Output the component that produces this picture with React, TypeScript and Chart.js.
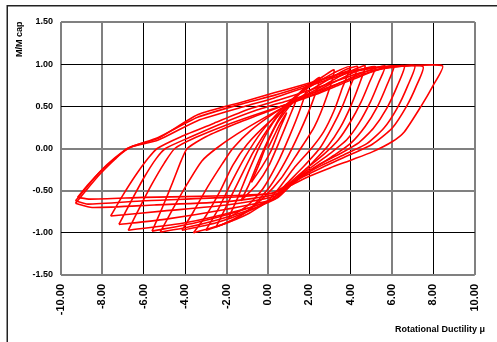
import { useEffect, useRef } from "react";
import { Chart, registerables } from "chart.js";

Chart.register(...registerables);

const xTicks = [-10, -8, -6, -4, -2, 0, 2, 4, 6, 8, 10];
const yTicks = [-1.5, -1.0, -0.5, 0, 0.5, 1.0, 1.5];
const xGray = [-10, -8, -2, 0, 6, 10];
const yGray = [1.5, 0, -0.5, -1.5];

type P = [number, number];

const loopA: P[] = [[0, 0], [0.3, 0.15], [0.6, 0.3], [0.9, 0.42], [0.55, 0.22], [0.15, -0.03], [-0.3, -0.22], [-0.8, -0.4]];
const loopB: P[] = [[-0.8, -0.4], [-0.45, -0.2], [-0.05, 0.05], [0.45, 0.3], [0.95, 0.47], [1.4, 0.6], [1.05, 0.38], [0.55, 0.08], [0.05, -0.2], [-0.55, -0.43], [-1.3, -0.62]];
const loopC: P[] = [[-1.3, -0.62], [-0.9, -0.42], [-0.45, -0.15], [0.05, 0.12], [0.65, 0.4], [1.3, 0.6], [1.9, 0.74], [1.55, 0.46], [1.05, 0.15], [0.45, -0.18], [-0.25, -0.48], [-1.0, -0.68], [-1.9, -0.82]];
const loopD: P[] = [[-1.9, -0.82], [-1.45, -0.58], [-0.95, -0.28], [-0.35, 0.05], [0.4, 0.36], [1.2, 0.58], [1.9, 0.73], [2.5, 0.84], [2.15, 0.55], [1.55, 0.2], [0.85, -0.15], [0.1, -0.45], [-0.8, -0.7], [-1.7, -0.85], [-2.5, -0.93]];
const loopE: P[] = [[-2.5, -0.93], [-2.0, -0.68], [-1.4, -0.38], [-0.7, -0.04], [0.2, 0.3], [1.1, 0.55], [2.0, 0.74], [2.7, 0.86], [3.2, 0.93], [2.85, 0.62], [2.25, 0.26], [1.45, -0.05], [0.65, -0.35], [-0.2, -0.58], [-1.2, -0.78], [-2.2, -0.9], [-3.0, -0.97]];
const loopF: P[] = [[-3.0, -0.97], [-2.4, -0.72], [-1.8, -0.42], [-1.1, -0.1], [-0.3, 0.2], [0.6, 0.45], [1.5, 0.65], [2.5, 0.8], [3.2, 0.9], [3.96, 0.97], [3.6, 0.72], [3.2, 0.45], [2.7, 0.2], [2.1, 0.0], [1.3, -0.22], [0.6, -0.45], [0.0, -0.62], [-1.0, -0.78], [-2.2, -0.9], [-3.6, -1.0]];
const loopG: P[] = [[-3.6, -1.0], [-3.0, -0.8], [-2.3, -0.5], [-1.7, -0.2], [-1.0, 0.05], [0.0, 0.3], [1.0, 0.5], [2.0, 0.68], [3.0, 0.83], [3.8, 0.94], [4.34, 0.97], [4.0, 0.75], [3.6, 0.5], [3.1, 0.25], [2.5, 0.0], [1.7, -0.22], [0.9, -0.42], [0.2, -0.6], [-1.0, -0.75], [-2.5, -0.88], [-4.15, -0.97]];
const loopH: P[] = [[-4.15, -0.97], [-3.6, -0.75], [-2.9, -0.45], [-2.2, -0.18], [-1.7, 0.0], [-0.8, 0.22], [0.3, 0.42], [1.4, 0.58], [2.5, 0.72], [3.5, 0.86], [4.2, 0.94], [4.7, 0.98], [4.4, 0.75], [4.0, 0.5], [3.5, 0.25], [2.9, 0.03], [2.1, -0.18], [1.3, -0.38], [0.5, -0.58], [-0.8, -0.72], [-2.5, -0.85], [-4.0, -0.94], [-5.2, -0.99]];
const loopI: P[] = [[-5.2, -0.99], [-4.6, -0.72], [-3.9, -0.42], [-3.2, -0.15], [-2.5, 0.0], [-1.5, 0.17], [-0.2, 0.36], [1.0, 0.52], [2.2, 0.66], [3.3, 0.8], [4.3, 0.92], [5.2, 0.97], [4.9, 0.78], [4.5, 0.55], [4.0, 0.32], [3.4, 0.1], [2.7, -0.07], [1.8, -0.25], [1.0, -0.42], [0.2, -0.6], [-1.5, -0.75], [-3.5, -0.88], [-5.6, -0.98]];
const loopJ: P[] = [[-5.6, -0.98], [-5.1, -0.7], [-4.6, -0.4], [-4.2, -0.15], [-3.9, 0.0], [-3.0, 0.14], [-1.5, 0.3], [0.0, 0.44], [1.3, 0.56], [2.5, 0.67], [3.6, 0.79], [4.6, 0.9], [5.66, 0.98], [5.35, 0.78], [4.95, 0.55], [4.4, 0.3], [3.8, 0.1], [3.0, -0.06], [2.0, -0.24], [1.1, -0.42], [0.3, -0.6], [-1.5, -0.74], [-4.0, -0.88], [-6.75, -0.97]];
const loopK: P[] = [[-6.75, -0.97], [-6.2, -0.7], [-5.6, -0.42], [-5.0, -0.17], [-4.5, 0.0], [-3.5, 0.13], [-2.0, 0.28], [-0.5, 0.41], [1.0, 0.53], [2.3, 0.64], [3.5, 0.76], [4.6, 0.87], [5.5, 0.95], [6.1, 0.98], [5.75, 0.75], [5.3, 0.5], [4.7, 0.26], [4.0, 0.06], [3.2, -0.08], [2.2, -0.24], [1.2, -0.42], [0.3, -0.6], [-2.0, -0.72], [-5.0, -0.84], [-7.2, -0.9]];
const loopL: P[] = [[-7.2, -0.9], [-6.6, -0.62], [-6.0, -0.35], [-5.4, -0.12], [-4.95, 0.0], [-3.8, 0.13], [-2.2, 0.3], [-0.6, 0.45], [1.0, 0.57], [2.3, 0.67], [3.5, 0.78], [4.6, 0.88], [5.8, 0.96], [6.6, 0.98], [6.25, 0.74], [5.75, 0.48], [5.1, 0.24], [4.4, 0.07], [3.5, -0.06], [2.4, -0.2], [1.3, -0.38], [0.4, -0.56], [-2.0, -0.67], [-5.0, -0.74], [-7.6, -0.8]];
const loopM: P[] = [[-7.6, -0.8], [-7.0, -0.55], [-6.4, -0.32], [-5.8, -0.12], [-5.35, 0.0], [-4.2, 0.14], [-2.6, 0.3], [-1.0, 0.46], [0.6, 0.58], [2.0, 0.69], [3.3, 0.8], [4.5, 0.9], [6.0, 0.96], [7.1, 0.98], [6.75, 0.74], [6.25, 0.48], [5.6, 0.24], [4.8, 0.06], [3.8, -0.06], [2.6, -0.2], [1.4, -0.36], [0.4, -0.54], [-2.0, -0.63], [-5.5, -0.67], [-8.5, -0.7], [-9.3, -0.65]];
const loopN: P[] = [[-9.3, -0.65], [-8.8, -0.5], [-8.1, -0.3], [-7.4, -0.13], [-6.8, 0.0], [-5.3, 0.13], [-3.4, 0.37], [-1.1, 0.54], [0.3, 0.63], [1.5, 0.72], [2.7, 0.82], [3.7, 0.9], [4.8, 0.95], [6.2, 0.98], [7.5, 0.97], [7.17, 0.74], [6.7, 0.5], [6.0, 0.24], [5.05, 0.05], [4.1, -0.06], [3.0, -0.18], [2.0, -0.3], [1.0, -0.42], [0.2, -0.53], [-2.0, -0.58], [-6.0, -0.62], [-8.7, -0.66], [-9.3, -0.62]];
const loopO: P[] = [[-9.3, -0.62], [-8.8, -0.47], [-8.1, -0.27], [-7.4, -0.11], [-6.7, 0.01], [-5.3, 0.1], [-3.4, 0.33], [-1.1, 0.5], [0.3, 0.6], [1.5, 0.7], [2.7, 0.8], [3.8, 0.89], [5.0, 0.95], [6.5, 0.975], [8.44, 0.98], [7.97, 0.74], [7.4, 0.5], [6.6, 0.2], [6.0, 0.08], [5.05, -0.04], [4.1, -0.13], [3.0, -0.23], [2.0, -0.33], [1.0, -0.45], [0.2, -0.53], [-2.0, -0.56], [-6.0, -0.58], [-8.6, -0.6], [-9.2, -0.58]];
const loopP: P[] = [[-9.2, -0.58], [-8.7, -0.43], [-8.0, -0.25], [-7.3, -0.1], [-6.6, 0.02], [-5.3, 0.12], [-3.4, 0.4], [-1.1, 0.56], [0.3, 0.66], [1.5, 0.74], [3.0, 0.85], [4.0, 0.93]];

const loops: P[][] = [loopA, loopB, loopC, loopD, loopE, loopF, loopG, loopH, loopI, loopJ, loopK, loopL, loopM, loopN, loopO, loopP];

const FONT = '"Liberation Sans", Arial, sans-serif';

const decor = {
  id: "decor",
  afterDraw(chart: any) {
    const c = chart.ctx as CanvasRenderingContext2D;
    c.save();
    c.strokeStyle = "#222";
    c.lineWidth = 1.5;
    c.beginPath();
    c.moveTo(7.25, 342);
    c.lineTo(7.25, 5.75);
    c.lineTo(497, 5.75);
    c.stroke();
    c.fillStyle = "#000";
    c.font = `bold 9px ${FONT}`;
    c.translate(20, 57);
    c.rotate(-Math.PI / 2);
    c.textAlign = "left";
    c.textBaseline = "middle";
    c.fillText("M/M cap", 0, 0);
    c.restore();
    c.save();
    c.fillStyle = "#000";
    c.font = `bold 9px ${FONT}`;
    c.textAlign = "right";
    c.textBaseline = "alphabetic";
    c.fillText("Rotational Ductility μ", 485, 332);
    c.restore();
  },
};

export default function App() {
  const ref = useRef<HTMLCanvasElement>(null);
  useEffect(() => {
    const chart = new Chart(ref.current!, {
      type: "scatter",
      data: {
        datasets: loops.map((l) => ({
          data: l.map(([x, y]) => ({ x, y })),
          showLine: true,
          borderColor: "#ff0000",
          backgroundColor: "#ff0000",
          borderWidth: 1.6,
          pointRadius: 0,
          tension: 0.2,
          fill: false,
        })),
      },
      options: {
        responsive: false,
        animation: false,
        devicePixelRatio: 1,
        layout: { padding: { top: 22, right: 0, left: 0, bottom: 0 } },
        plugins: { legend: { display: false }, tooltip: { enabled: false } },
        scales: {
          x: {
            type: "linear",
            min: -10,
            max: 10,
            afterBuildTicks: (s: any) => {
              s.ticks = xTicks.map((v) => ({ value: v }));
            },
            afterFit: (s: any) => {
              s.height = 67;
            },
            border: { display: false },
            grid: {
              drawTicks: false,
              color: (ctx: any) => (xGray.includes(ctx.tick?.value) ? "#808080" : "#000"),
              lineWidth: (ctx: any) => (xGray.includes(ctx.tick?.value) ? 2 : 1),
            },
            ticks: {
              autoSkip: false,
              maxRotation: 90,
              minRotation: 90,
              padding: 9,
              color: "#000",
              font: { family: FONT, size: 11, weight: "bold" },
              callback: (v: any) => Number(v).toFixed(2),
            },
          },
          y: {
            type: "linear",
            min: -1.5,
            max: 1.5,
            afterBuildTicks: (s: any) => {
              s.ticks = yTicks.map((v) => ({ value: v }));
            },
            afterFit: (s: any) => {
              s.width = 61;
            },
            border: { display: false },
            grid: {
              drawTicks: false,
              color: (ctx: any) => (yGray.includes(ctx.tick?.value) ? "#808080" : "#000"),
              lineWidth: (ctx: any) => (yGray.includes(ctx.tick?.value) ? 2 : 1),
            },
            ticks: {
              padding: 8,
              color: "#000",
              font: { family: FONT, size: 9, weight: "bold" },
              callback: (v: any) => Number(v).toFixed(2),
            },
          },
        },
      },
      plugins: [decor],
    } as any);
    return () => chart.destroy();
  }, []);
  return (
    <div style={{ position: "fixed", left: 0, top: 0, width: 497, height: 342, background: "#fff" }}>
      <canvas ref={ref} width={497} height={342} style={{ display: "block", width: 497, height: 342 }} />
    </div>
  );
}
